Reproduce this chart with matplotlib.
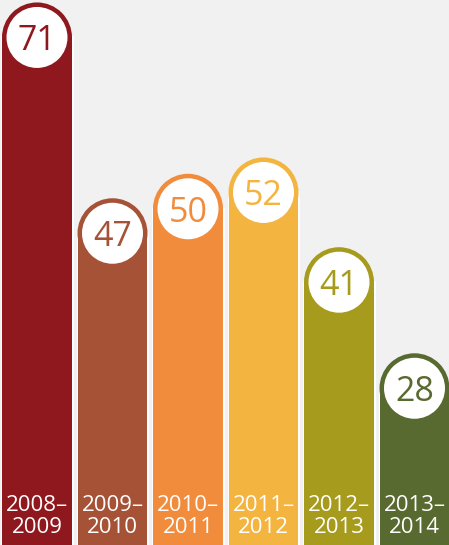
import matplotlib
matplotlib.use("Agg")
import matplotlib.pyplot as plt
from matplotlib.patches import Circle, Rectangle
from matplotlib import transforms

periods = ["2008–\n2009", "2009–\n2010", "2010–\n2011", "2011–\n2012", "2012–\n2013", "2013–\n2014"]
values = [71, 47, 50, 52, 41, 28]
colors = ["#8f181e", "#a55237", "#f08c3c", "#f4b440", "#a69b1c", "#586a2f"]

W, H, DPI = 4.49, 5.45, 100
fig = plt.figure(figsize=(W, H), dpi=DPI)
fig.patch.set_facecolor("#f1f1f1")
ax = fig.add_axes([0, 0, 1, 1])
ax.set_facecolor("#f1f1f1")
ax.axis("off")

ylo, yhi = 4.5, 71.3
ax.set_xlim(-0.49, 5.457)
ax.set_ylim(ylo, yhi)

px_per_unit_y = H * DPI / (yhi - ylo)
cap_r_in = 0.35
ring_r_in = 0.305
cap_r_data = cap_r_in * DPI / px_per_unit_y
bar_w = 0.927

font = "Open Sans"

for i, (v, c, lab) in enumerate(zip(values, colors, periods)):
    cy = v - cap_r_data
    ax.add_patch(Rectangle((i - bar_w / 2, ylo - 5), bar_w, cy - (ylo - 5),
                           facecolor=c, edgecolor="white", linewidth=2.0, zorder=2))
    ax.add_patch(Rectangle((i - bar_w / 2, ylo - 5), bar_w, cy - (ylo - 5),
                           facecolor=c, edgecolor="none", zorder=3))
    trans = fig.dpi_scale_trans + transforms.ScaledTranslation(i, cy, ax.transData)
    ax.add_patch(Circle((0, 0), cap_r_in, transform=trans, facecolor=c,
                        edgecolor="none", zorder=3))
    ax.add_patch(Circle((0, 0), ring_r_in, transform=trans, facecolor="white",
                        edgecolor="none", zorder=4))
    ax.text(i, cy, str(v), ha="center", va="center_baseline", color=c,
            fontsize=24.5, family=font, zorder=5)
    ax.text(i, 0.053, lab, transform=ax.get_xaxis_transform(), ha="center",
            va="center", color="white", fontsize=16, family=font,
            linespacing=1.05, zorder=5)

fig.savefig("out.png", dpi=DPI, facecolor=fig.get_facecolor())
